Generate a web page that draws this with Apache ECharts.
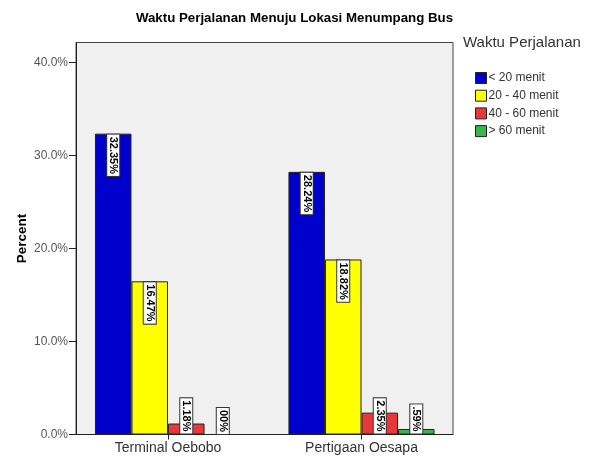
<!DOCTYPE html>
<html><head><meta charset="utf-8">
<script src="https://cdn.jsdelivr.net/npm/echarts@6/dist/echarts.min.js"></script>
<style>html,body{margin:0;padding:0;background:#fff}#c{width:589px;height:461px}</style>
</head><body><div id="c"></div>
<script>
const categories = ["Terminal Oebobo", "Pertigaan Oesapa"];
const seriesNames = ["< 20 menit", "20 - 40 menit", "40 - 60 menit", "> 60 menit"];
const lt20 = [32.35, 28.24];
const m20to40 = [16.47, 18.82];
const m40to60 = [1.18, 2.35];
const gt60 = [0.00, 0.59];
const labelsLt20 = ["32.35%", "28.24%"];
const labels20to40 = ["16.47%", "18.82%"];
const labels40to60 = ["1.18%", "2.35%"];
const labelsGt60 = ["00%", ".59%"];
const yTicks = [0, 10, 20, 30, 40];
const colors = ["#0000CC", "#FFFF00", "#E8383B", "#3BB44A"];

const FONT = "'Liberation Sans', Arial, sans-serif";
const values = [lt20, m20to40, m40to60, gt60];
const labels = [labelsLt20, labels20to40, labels40to60, labelsGt60];
const YMAX = 42.15;

function mkSeries(i) {
  return {
    name: seriesNames[i], type: 'bar', xAxisIndex: 1, yAxisIndex: 1,
    barGap: '0%', barCategoryGap: '24.5%',
    itemStyle: { color: colors[i], borderColor: '#222', borderWidth: 1 },
    data: values[i].map((v, j) => {
      const tall = v > 6;
      return {
        value: v,
        label: {
          show: true,
          position: tall ? 'insideTop' : 'insideBottom',
          distance: 1,
          rotate: -90,
          align: tall ? 'left' : 'right',
          verticalAlign: 'middle',
          formatter: labels[i][j],
          fontFamily: FONT, fontSize: 11, fontWeight: 'bold', color: '#000',
          backgroundColor: '#fff', borderColor: '#333', borderWidth: 1,
          padding: [1, 2, 0, 2]
        }
      };
    })
  };
}

const chart = echarts.init(document.getElementById('c'), null, { renderer: 'canvas' });
chart.setOption({
  animation: false,
  title: [
    { text: 'Waktu Perjalanan Menuju Lokasi Menumpang Bus', left: 'center', top: 7,
      textStyle: { fontFamily: FONT, fontSize: 13.3, fontWeight: 'bold', color: '#000' } },
    { text: 'Waktu Perjalanan', left: 458, top: 30,
      textStyle: { fontFamily: FONT, fontSize: 15, fontWeight: 'normal', color: '#333' } }
  ],
  legend: {
    orient: 'vertical', left: 475, top: 72, padding: 0, itemWidth: 11, itemHeight: 11, itemGap: 5.7,
    icon: 'rect', data: seriesNames,
    itemStyle: { borderColor: '#222', borderWidth: 1 },
    textStyle: { fontFamily: FONT, fontSize: 12, color: '#333', padding: [0, 0, 0, -3] }
  },
  grid: [
    { left: 76, top: 42.5, width: 377, height: 392, show: true,
      backgroundColor: '#F0F0F0', borderColor: '#444', borderWidth: 1 },
    { left: 71.25, top: 42.5, width: 387, height: 392, show: false }
  ],
  xAxis: [
    { gridIndex: 0, type: 'category', data: categories,
      axisLine: { show: true, lineStyle: { color: '#222', width: 1 } },
      axisTick: { show: false }, axisLabel: { show: false } },
    { gridIndex: 1, type: 'category', data: categories,
      axisLine: { show: false },
      axisTick: { show: true, alignWithLabel: true, length: 5, lineStyle: { color: '#222' } },
      axisLabel: { fontFamily: FONT, fontSize: 14, color: '#333', margin: 7 } }
  ],
  yAxis: [
    { gridIndex: 0, type: 'value', min: 0, max: YMAX, interval: 10,
      name: 'Percent', nameLocation: 'middle', nameGap: 47, nameMoveOverlap: false,
      nameTextStyle: { fontFamily: FONT, fontSize: 13.5, fontWeight: 'bold', color: '#000' },
      splitLine: { show: false },
      axisLine: { show: true, lineStyle: { color: '#222' } },
      axisTick: { show: true, length: 7, customValues: yTicks, lineStyle: { color: '#222' } },
      axisLabel: { customValues: yTicks, fontFamily: FONT, fontSize: 12, color: '#555', margin: 8,
        formatter: v => v.toFixed(1) + '%' } },
    { gridIndex: 1, type: 'value', min: 0, max: YMAX, show: false, splitLine: { show: false } }
  ],
  series: [0, 1, 2, 3].map(mkSeries)
});
</script></body></html>
